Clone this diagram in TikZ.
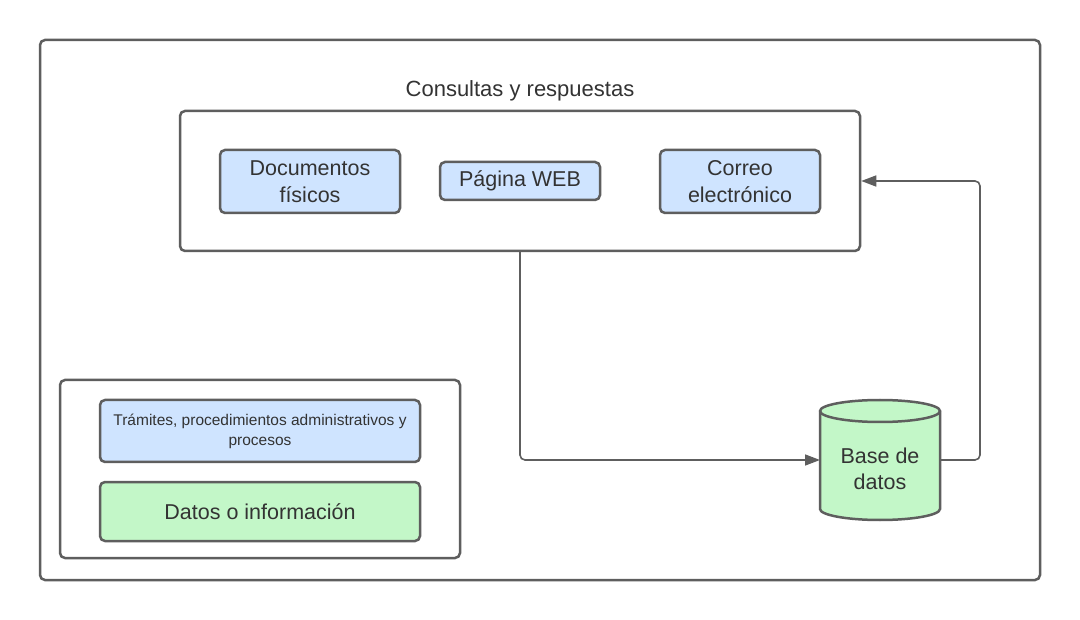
\documentclass[tikz,border=0pt]{standalone}
\usepackage{fontspec}
\setmainfont{Liberation Sans}
\usetikzlibrary{arrows.meta}
\definecolor{edge}{HTML}{5E5E5E}
\definecolor{txt}{HTML}{333333}
\definecolor{bluefill}{HTML}{CFE4FF}
\definecolor{greenfill}{HTML}{C3F7C8}
\tikzset{
  frame/.style={draw=edge, line width=2.5pt, rounded corners=5pt, fill=white, inner sep=0pt},
  item/.style={draw=edge, line width=2.5pt, rounded corners=5pt, inner sep=0pt, align=center, text=txt, font=\fontsize{21.5}{27}\selectfont},
  bluebox/.style={item, fill=bluefill},
  greenbox/.style={item, fill=greenfill},
  conn/.style={draw=edge, line width=1.6pt, rounded corners=5pt, -{Triangle[length=15pt,width=11pt]}},
}
\begin{document}
\begin{tikzpicture}[x=1pt,y=-1pt]
\fill[white] (0,0) rectangle (1080,620);
\useasboundingbox (0,0) rectangle (1080,620);
% outer frame
\node[frame, minimum width=1000pt, minimum height=540pt] (outer) at (540,310) {};
\node[text=txt, font=\fontsize{22}{27}\selectfont] (title) at (520,90.5) {Consultas y respuestas};
% inner box
\node[frame, minimum width=680pt, minimum height=140pt] (inner) at (520,181) {};
\node[bluebox, minimum width=180pt, minimum height=63pt] (docs) at (310,181.5) {Documentos\\físicos};
\node[bluebox, minimum width=160pt, minimum height=38pt] (web) at (520,181) {Página WEB};
\node[bluebox, minimum width=160pt, minimum height=63pt] (mail) at (740,181.5) {Correo\\electrónico};
% lower left box
\node[frame, minimum width=400pt, minimum height=178pt] (legend) at (260,469) {};
\node[bluebox, minimum width=320pt, minimum height=62pt, font=\fontsize{15.5}{20}\selectfont] (tram) at (260,431) {Trámites, procedimientos administrativos y\\procesos};
\node[greenbox, minimum width=320pt, minimum height=59pt] (datos) at (260,511.5) {Datos o información};
% database cylinder
\draw[draw=edge, line width=2.5pt, fill=greenfill]
  (820,411) -- (820,509) arc[start angle=180, end angle=0, x radius=60, y radius=11]
  -- (940,411) arc[start angle=360, end angle=180, x radius=60, y radius=11] -- cycle;
\draw[draw=edge, line width=2.5pt] (820,411) arc[start angle=180, end angle=0, x radius=60, y radius=11];
\node[inner sep=0pt, minimum width=120pt, minimum height=98pt, align=center, text=txt, font=\fontsize{21.5}{26}\selectfont] (db) at (880,469) {Base de\\datos};
\coordinate (dbw) at (820,460);
\coordinate (dbe) at (940,460);
% connectors
\draw[conn] (inner.south) |- (dbw);
\draw[conn] (dbe) -- ++(40,0) |- (inner.east);
\end{tikzpicture}
\end{document}
